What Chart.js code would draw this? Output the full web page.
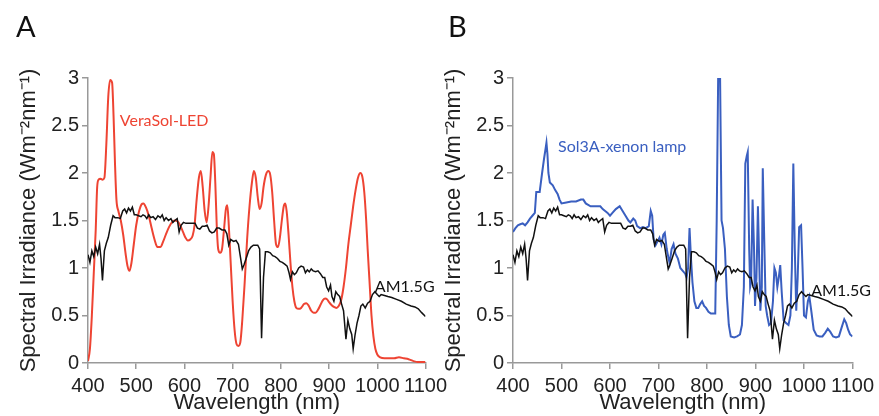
<!DOCTYPE html>
<html>
<head>
<meta charset="utf-8">
<script src="https://cdn.jsdelivr.net/npm/chart.js@4"></script>
<style>
  body { margin: 0; background: #fff; width: 879px; height: 416px; overflow: hidden; position: relative; }
  canvas { position: absolute; top: 0; }
  #chartA { left: 0; }
  #chartB { left: 440px; }
</style>
</head>
<body>
<canvas id="chartA" width="452" height="416"></canvas>
<canvas id="chartB" width="439" height="416"></canvas>
<script>
// AM1.5G reference spectrum (same curve in both panels)
var amWl = [400,404,408,412,416,420,424,427,430,434,438,442,447,452,456,462,467,472,476,480,484,488,492,496,500,505,510,514,518,522,526,530,535,540,545,550,554,558,562,567,572,576,580,585,589,593,598,603,610,616,622,627,632,637,642,647,652,657,662,667,672,678,684,688,692,696,702,707,712,716,720,724,728,733,738,743,748,752,756,760,764,768,773,778,783,788,793,798,803,808,813,817,820,824,828,832,837,842,847,851,855,859,863,867,872,877,882,887,891,895,899,903,906,910,914,918,922,926,930,935,939,943,947,950,954,958,962,966,970,975,980,985,990,995,1000,1004,1008,1015,1022,1030,1040,1050,1060,1070,1078,1085,1092,1100];
var amIrr = [1.14,1.06,1.18,1.12,1.22,1.15,1.25,1.1,0.87,1.18,1.26,1.32,1.45,1.55,1.53,1.53,1.52,1.6,1.62,1.58,1.63,1.6,1.64,1.56,1.56,1.55,1.54,1.56,1.55,1.52,1.56,1.53,1.54,1.51,1.55,1.53,1.56,1.5,1.53,1.5,1.52,1.48,1.5,1.52,1.38,1.45,1.48,1.47,1.47,1.47,1.47,1.42,1.41,1.44,1.44,1.45,1.39,1.37,1.38,1.42,1.42,1.4,1.4,1.36,1.24,1.3,1.28,1.29,1.25,1.12,0.99,1.04,1.1,1.18,1.22,1.24,1.24,1.24,1.2,0.26,0.9,1.17,1.17,1.16,1.13,1.12,1.1,1.07,1.06,1.04,1.02,0.95,0.88,0.96,0.93,0.95,1.0,1.02,1.01,0.95,0.98,0.96,0.99,0.97,0.96,0.97,0.94,0.9,0.9,0.8,0.76,0.82,0.7,0.65,0.75,0.72,0.7,0.62,0.55,0.25,0.45,0.36,0.3,0.15,0.3,0.42,0.5,0.6,0.62,0.58,0.63,0.65,0.72,0.75,0.72,0.7,0.72,0.71,0.7,0.69,0.67,0.65,0.62,0.6,0.59,0.57,0.53,0.49];

// VeraSol-LED (panel A)
var ledWl = [400,404,408,412,416,419,422,426,430,434,438,442,446,450,453,456,459,463,468,473,478,482,486,490,495,500,506,511,515,520,526,532,538,544,550,556,562,568,574,580,586,592,597,602,607,612,617,621,625,630,634,638,642,646,650,654,658,661,664,667,670,674,678,682,686,689,692,696,700,704,708,712,716,720,725,730,735,740,744,748,752,756,760,764,769,774,778,782,786,790,794,798,802,806,809,812,816,820,824,828,832,837,842,848,853,858,863,868,872,877,882,887,892,896,900,905,910,915,920,925,930,935,940,945,950,955,960,965,969,973,977,980,984,988,992,996,1000,1006,1015,1025,1035,1045,1055,1065,1075,1085,1100];
var ledIrr = [0.02,0.15,0.5,0.95,1.4,1.85,1.93,1.94,1.93,1.95,2.3,2.8,2.98,2.95,2.6,2.1,1.72,1.6,1.5,1.35,1.15,1.02,0.97,1.05,1.25,1.45,1.6,1.67,1.68,1.64,1.55,1.42,1.3,1.22,1.22,1.28,1.36,1.43,1.48,1.5,1.49,1.44,1.38,1.32,1.29,1.3,1.34,1.45,1.7,1.95,2.02,1.85,1.6,1.48,1.65,1.95,2.22,2.2,1.9,1.45,1.2,1.16,1.2,1.4,1.62,1.66,1.45,1.05,0.65,0.35,0.2,0.18,0.22,0.45,0.85,1.3,1.65,1.9,2.02,1.95,1.75,1.62,1.68,1.85,1.98,2.02,1.98,1.8,1.5,1.25,1.22,1.32,1.5,1.65,1.68,1.6,1.35,1.05,0.8,0.65,0.58,0.57,0.58,0.62,0.63,0.6,0.55,0.53,0.53,0.56,0.61,0.66,0.68,0.67,0.64,0.61,0.59,0.58,0.6,0.66,0.8,1.0,1.25,1.45,1.65,1.82,1.95,2.0,1.96,1.8,1.5,1.2,0.85,0.5,0.28,0.15,0.09,0.06,0.05,0.05,0.05,0.06,0.05,0.04,0.02,0.01,0.01];

// Sol3A xenon lamp (panel B)
var xeWl = [400,405,410,415,420,425,430,435,440,445,448,455,460,464,467,469,471,473,476,482,487,492,496,500,510,520,530,540,545,550,560,570,580,585,590,595,600,605,612,620,626,632,638,642,648,652,656,662,668,674,680,684,687,690,694,698,702,706,710,713,717,720,723,727,731,735,740,745,750,755,758,761,764,767,770,774,778,782,786,790,794,798,803,808,813,817,820,823,827,830,833,837,841,845,849,856,862,868,872,876,879,882,884,887,889,891,894,897,899,902,905,908,910,913,915,918,921,924,928,932,936,939,942,945,948,951,954,958,963,968,972,975,978,981,984,987,990,994,997,1000,1004,1008,1011,1015,1020,1026,1032,1038,1044,1049,1054,1060,1066,1072,1078,1083,1087,1091,1095,1100];
var xeIrr = [1.38,1.42,1.45,1.46,1.47,1.45,1.48,1.52,1.55,1.58,1.8,1.8,2.0,2.15,2.25,2.32,2.2,2.0,1.9,1.87,1.82,1.78,1.72,1.68,1.69,1.7,1.7,1.72,1.72,1.68,1.65,1.65,1.65,1.62,1.6,1.58,1.55,1.58,1.62,1.65,1.6,1.55,1.5,1.48,1.52,1.5,1.44,1.42,1.43,1.42,1.44,1.6,1.55,1.3,1.24,1.28,1.32,1.25,1.35,1.37,1.2,1.12,1.05,1.2,1.25,1.15,1.1,1.0,0.97,0.94,0.9,1.0,1.42,1.1,0.85,0.65,0.58,0.58,0.62,0.65,0.6,0.58,0.54,0.52,0.52,0.52,1.5,3.0,3.0,1.5,1.42,1.2,0.7,0.4,0.28,0.27,0.28,0.3,0.4,0.8,2.1,2.18,2.22,1.2,0.8,0.85,1.72,1.2,0.6,0.9,1.65,1.0,0.55,0.8,2.05,1.3,0.6,0.5,0.4,0.42,0.65,1.0,0.95,0.8,0.9,1.03,0.75,0.45,0.42,0.4,0.5,1.0,2.1,1.2,0.55,0.9,1.43,1.45,1.0,0.5,0.48,0.65,0.7,0.55,0.35,0.29,0.28,0.28,0.32,0.36,0.33,0.28,0.27,0.28,0.38,0.46,0.42,0.35,0.3,0.28];

var xTicks = [400, 1100, 100];   // min, max, step
var yTicks = [0, 3, 0.5];

var fontMain = "'Liberation Sans', Arial, sans-serif";
var fontLabel = "Lato, 'Open Sans', sans-serif";

function pts(wl, v) {
    return wl.map(function (w, i) { return { x: w, y: v[i] }; });
}

// writes the series names next to the curves
var seriesLabels = {
    id: 'seriesLabels',
    afterDatasetsDraw: function (chart, args, opts) {
        var ctx = chart.ctx, x = chart.scales.x, y = chart.scales.y;
        ctx.save();
        ctx.font = '16px ' + fontLabel;
        ctx.textBaseline = 'middle';
        opts.items.forEach(function (it) {
            ctx.fillStyle = it.color;
            ctx.fillText(it.text, x.getPixelForValue(it.x), y.getPixelForValue(it.y));
        });
        ctx.restore();
    }
};

function makePanel(id, letter, lamp, padLeft, axisW, padRight, yTitlePad, labels) {
    var ctx = document.getElementById(id).getContext('2d');
    return new Chart(ctx, {
        type: 'line',
        data: {
            datasets: [{
                label: 'AM1.5G',
                data: pts(amWl, amIrr),
                borderColor: '#111',
                borderWidth: 1.5,
                pointRadius: 0,
                tension: 0
            }, {
                label: lamp.name,
                data: pts(lamp.wl, lamp.irr),
                borderColor: lamp.color,
                borderWidth: 2,
                pointRadius: 0,
                cubicInterpolationMode: lamp.smooth ? 'monotone' : 'default',
                tension: 0
            }]
        },
        options: {
            responsive: false,
            animation: false,
            devicePixelRatio: 1,
            layout: { padding: { left: padLeft, right: padRight, top: 0, bottom: 0 } },
            plugins: {
                legend: { display: false },
                tooltip: { enabled: false },
                title: {
                    display: true,
                    text: letter,
                    align: 'start',
                    color: '#111',
                    font: { size: 29, family: fontLabel, weight: 'normal' },
                    padding: { top: 10, bottom: 33.2 }
                },
                seriesLabels: { items: labels }
            },
            scales: {
                x: {
                    type: 'linear',
                    min: xTicks[0],
                    max: xTicks[1],
                    ticks: { stepSize: xTicks[2], color: '#222', font: { size: 20, family: fontMain }, padding: 5, maxRotation: 0, autoSkip: false,
                        callback: function (v) { return String(v); } },
                    grid: { drawOnChartArea: false, drawTicks: true, tickLength: 6, color: '#999', lineWidth: 1.5 },
                    border: { color: '#999', width: 1.5 },
                    title: { display: true, text: 'Wavelength (nm)', color: '#222', font: { size: 22, family: fontMain }, padding: 0 },
                    afterFit: function (s) { s.height = 53; }
                },
                y: {
                    min: yTicks[0],
                    max: yTicks[1],
                    ticks: { stepSize: yTicks[2], color: '#222', font: { size: 20, family: fontMain }, padding: 3,
                        callback: function (v) { return String(v); } },
                    grid: { drawOnChartArea: false, drawTicks: true, tickLength: 6, color: '#999', lineWidth: 1.5 },
                    border: { color: '#999', width: 1.5 },
                    title: { display: true, text: 'Spectral Irradiance (Wm\u207B\u00B2nm\u207B\u00B9)', color: '#222',
                        font: { size: 22, family: fontMain }, padding: { top: yTitlePad, bottom: 0 } },
                    afterFit: function (s) { s.width = axisW; }
                }
            }
        },
        plugins: [seriesLabels]
    });
}

makePanel('chartA', 'A',
    { name: 'VeraSol-LED', wl: ledWl, irr: ledIrr, color: '#ee4433', smooth: true },
    16, 72, 23, 0,
    [{ text: 'VeraSol-LED', x: 466, y: 2.55, color: '#ee4433' },
     { text: 'AM1.5G', x: 995, y: 0.8, color: '#111' }]);

makePanel('chartB', 'B',
    { name: 'Sol3A-xenon lamp', wl: xeWl, irr: xeIrr, color: '#3a5fc0', smooth: false },
    8, 65, 24, -7,
    [{ text: 'Sol3A-xenon lamp', x: 493, y: 2.28, color: '#3a5fc0' },
     { text: 'AM1.5G', x: 1015, y: 0.76, color: '#111' }]);
</script>
</body>
</html>
